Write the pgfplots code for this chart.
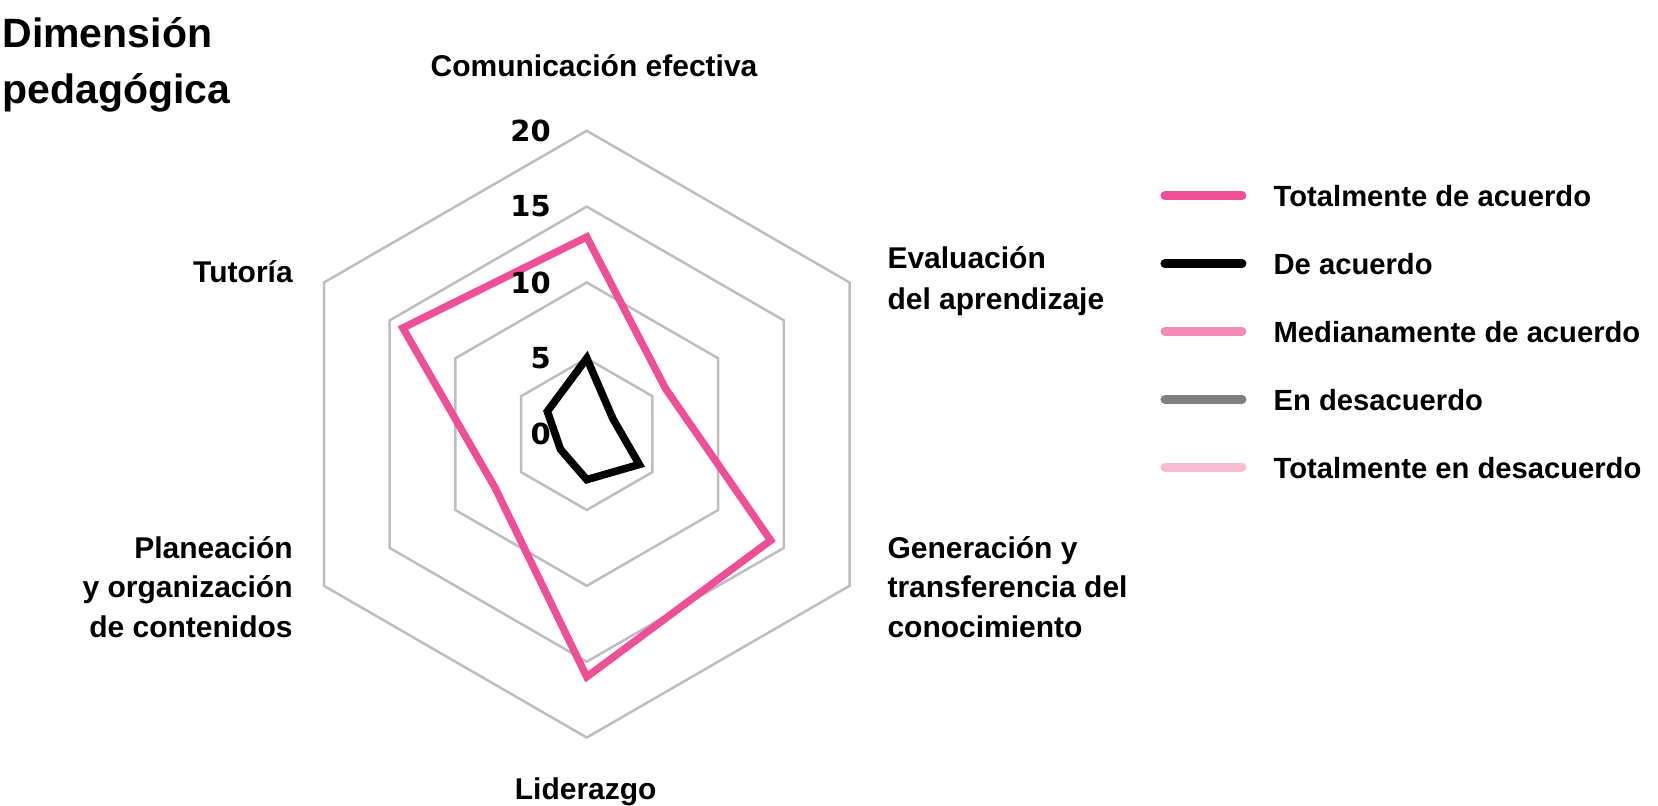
\documentclass[border=0pt]{standalone}
\usepackage{fontspec}
\setmainfont{Liberation Sans}
\newfontfamily\tickfont{DejaVu Sans}
\usepackage{pgfplots}
\pgfplotsset{compat=1.18}
\definecolor{cPink}{RGB}{238,79,151}
\definecolor{cMed}{RGB}{244,139,183}
\definecolor{cDes}{RGB}{128,128,130}
\definecolor{cTDes}{RGB}{247,187,212}
\definecolor{cGrid}{RGB}{190,190,192}
\begin{document}
\begin{tikzpicture}
\begin{axis}[name=ax,
  x=7.585pt, y=7.585pt,
  xmin=-38.68, xmax=70.62, ymin=-24.51, ymax=28.62,
  hide axis, clip=false,
  legend cell align=left,
  legend style={at={(axis cs:37.82,16.43)}, anchor=north west, draw=none, fill=none,
    inner sep=0pt, outer sep=0pt, row sep=22.9pt, column sep=13.6pt,
    font=\bfseries\fontsize{14.6}{18}\selectfont,
    nodes={inner sep=0pt, text height=11pt, text depth=0pt}},
  legend image code/.code={\draw[#1, line width=4.5pt, line cap=round] (0pt,0pt) -- (38.5pt,0pt);},
]
% grid hexagons
\addplot[forget plot, cGrid, line width=1.25pt, line join=miter, data cs=polar] coordinates {(90,5)(30,5)(-30,5)(-90,5)(-150,5)(150,5)} -- cycle;
\addplot[forget plot, cGrid, line width=1.25pt, line join=miter, data cs=polar] coordinates {(90,10)(30,10)(-30,10)(-90,10)(-150,10)(150,10)} -- cycle;
\addplot[forget plot, cGrid, line width=1.25pt, line join=miter, data cs=polar] coordinates {(90,15)(30,15)(-30,15)(-90,15)(-150,15)(150,15)} -- cycle;
\addplot[forget plot, cGrid, line width=1.25pt, line join=miter, data cs=polar] coordinates {(90,20)(30,20)(-30,20)(-90,20)(-150,20)(150,20)} -- cycle;
% series
\addplot[cPink, line width=3.7pt, line join=miter, data cs=polar] coordinates {(90,13)(30,6)(-30,14)(-90,16)(-150,7)(150,14)} -- cycle;
\addlegendentry{Totalmente de acuerdo}
\addplot[black, line width=3.8pt, line join=miter, data cs=polar] coordinates {(90,5)(30,2)(-30,4)(-90,3)(-150,2)(150,3)} -- cycle;
\addlegendentry{De acuerdo}
\addlegendimage{cMed}
\addlegendentry{Medianamente de acuerdo}
\addlegendimage{cDes}
\addlegendentry{En desacuerdo}
\addlegendimage{cTDes}
\addlegendentry{Totalmente en desacuerdo}
% tick labels
\node[anchor=east, inner sep=0pt, font=\tickfont\bfseries\fontsize{14.5}{18}\selectfont] at (axis cs:-2.35,20) {20};
\node[anchor=east, inner sep=0pt, font=\tickfont\bfseries\fontsize{14.5}{18}\selectfont] at (axis cs:-2.35,15) {15};
\node[anchor=east, inner sep=0pt, font=\tickfont\bfseries\fontsize{14.5}{18}\selectfont] at (axis cs:-2.35,10) {10};
\node[anchor=east, inner sep=0pt, font=\tickfont\bfseries\fontsize{14.5}{18}\selectfont] at (axis cs:-2.35,5) {5};
\node[anchor=east, inner sep=0pt, font=\tickfont\bfseries\fontsize{14.5}{18}\selectfont] at (axis cs:-2.35,0) {0};
% title
\node[anchor=base west, inner sep=0pt, font=\bfseries\fontsize{20.5}{24}\selectfont] at (axis cs:-38.54,25.48) {Dimensión};
\node[anchor=base west, inner sep=0pt, font=\bfseries\fontsize{20.5}{24}\selectfont] at (axis cs:-38.54,21.78) {pedagógica};
% category labels
\node[anchor=base, inner sep=0pt, font=\bfseries\fontsize{15}{18}\selectfont] at (axis cs:0.48,23.56) {Comunicación efectiva};
\node[anchor=base west, inner sep=0pt, font=\bfseries\fontsize{15}{18}\selectfont] at (axis cs:19.80,10.89) {Evaluación};
\node[anchor=base west, inner sep=0pt, font=\bfseries\fontsize{15}{18}\selectfont] at (axis cs:19.80,8.25) {del aprendizaje};
\node[anchor=base west, inner sep=0pt, font=\bfseries\fontsize{15}{18}\selectfont] at (axis cs:19.80,-8.22) {Generación y};
\node[anchor=base west, inner sep=0pt, font=\bfseries\fontsize{15}{18}\selectfont] at (axis cs:19.80,-10.80) {transferencia del};
\node[anchor=base west, inner sep=0pt, font=\bfseries\fontsize{15}{18}\selectfont] at (axis cs:19.80,-13.40) {conocimiento};
\node[anchor=base, inner sep=0pt, font=\bfseries\fontsize{15}{18}\selectfont] at (axis cs:-0.07,-24.08) {Liderazgo};
\node[anchor=base east, inner sep=0pt, font=\bfseries\fontsize{15}{18}\selectfont] at (axis cs:-19.36,9.97) {Tutoría};
\node[anchor=base east, inner sep=0pt, font=\bfseries\fontsize{15}{18}\selectfont] at (axis cs:-19.36,-8.22) {Planeación};
\node[anchor=base east, inner sep=0pt, font=\bfseries\fontsize{15}{18}\selectfont] at (axis cs:-19.36,-10.80) {y organización};
\node[anchor=base east, inner sep=0pt, font=\bfseries\fontsize{15}{18}\selectfont] at (axis cs:-19.36,-13.40) {de contenidos};
\end{axis}
\pgfresetboundingbox
\useasboundingbox (ax.south west) rectangle (ax.north east);
\end{tikzpicture}
\end{document}
